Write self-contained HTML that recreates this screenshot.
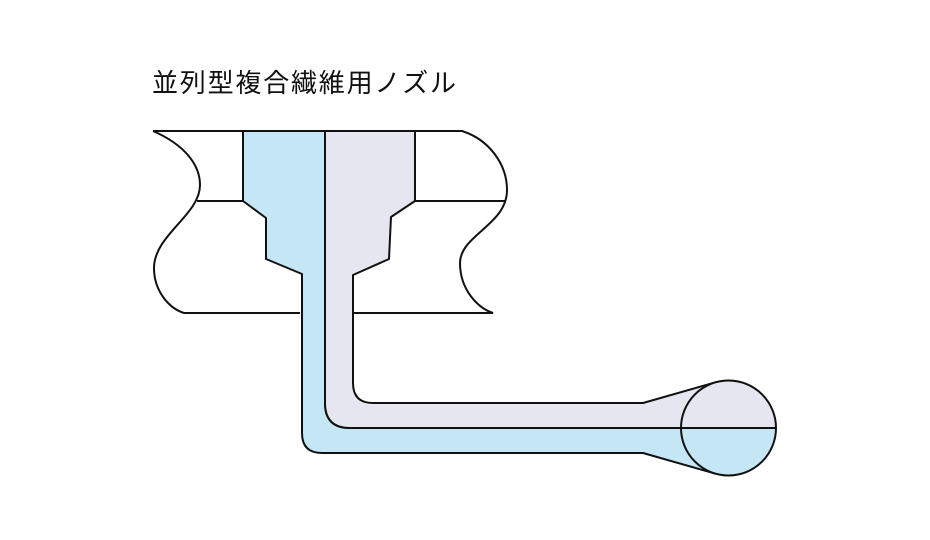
<!DOCTYPE html>
<html><head><meta charset="utf-8"><style>
html,body{margin:0;padding:0;background:#fff;}
svg{display:block;}
</style></head><body>
<svg width="930" height="540" viewBox="0 0 930 540" xmlns="http://www.w3.org/2000/svg">
<text x="152" y="92" font-family="'Liberation Sans','Noto Sans CJK JP',sans-serif" font-size="26" letter-spacing="1.8" fill="#111">並列型複合繊維用ノズル</text>
<g fill="none" stroke="#111" stroke-width="2">
<path d="M153,131 H462 C490,140 507,165 507,190 C507,225 460,235 460,263 C460,290 478,308 493,313 H354"/>
<path d="M300,313 H184 C168,308 154,290 154,268 C154,235 200,215 200,185 C200,165 185,145 153,131"/>
<path d="M197,201 H505"/>
</g>
<g stroke="#111" stroke-width="2" stroke-linejoin="round">
<path fill="#c4e6f5" d="M243,131 H325 V403 Q325,428 350,428 H728.5 L715.5,473.7 L643,453 H322 Q302,453 302,433 V274 L266,259 V218 L243,201 Z"/>
<path fill="#e6e6f0" d="M325,131 H415 V201 L391,217 L389,259 L353,275 V383 Q353,403 373,403 H643 L715.5,382.3 L728.5,428 H350 Q325,428 325,403 Z"/>
<path fill="#c4e6f5" stroke="none" d="M681,428 A47.5,47.5 0 0 0 776,428 Z"/>
<path fill="#e6e6f0" stroke="none" d="M681,428 A47.5,47.5 0 0 1 776,428 Z"/>
<path d="M681,428 H776" fill="none"/>
<circle cx="728.5" cy="428" r="47.5" fill="none"/>
<path d="M325,131 V201" fill="none"/>
</g>
</svg>
</body></html>
